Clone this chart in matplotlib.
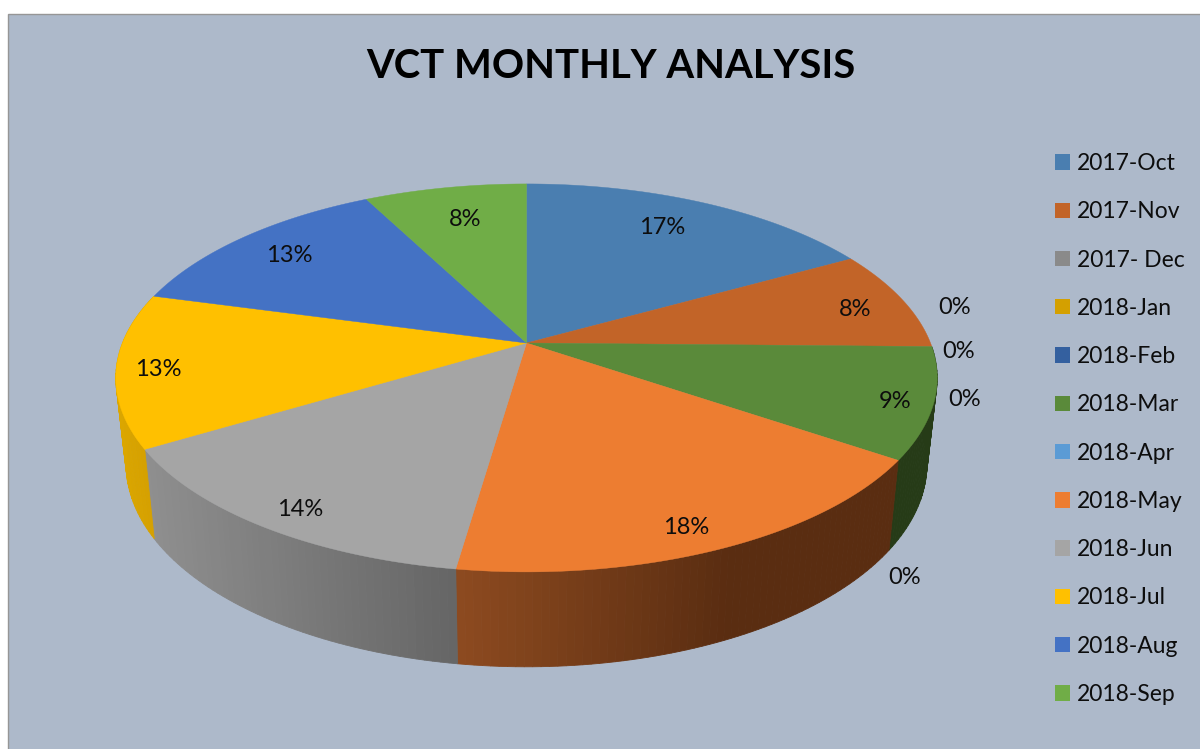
import numpy as np
import matplotlib
matplotlib.use("Agg")
import matplotlib.pyplot as plt
from matplotlib.patches import Patch, Polygon, Rectangle

plt.rcParams['font.family'] = ['Lato', 'DejaVu Sans']

# Data
months = ['2017-Oct', '2017-Nov', '2017- Dec', '2018-Jan', '2018-Feb', '2018-Mar',
          '2018-Apr', '2018-May', '2018-Jun', '2018-Jul', '2018-Aug', '2018-Sep']
shares = [16.9, 8.4, 0, 0, 0, 9.2, 0, 17.8, 14.1, 12.8, 13.2, 7.6]
colors = ['#4a7eb0', '#c26428', '#8a8a8a', '#d4a000', '#34609f', '#5a8a3a',
          '#5b9bd5', '#ed7d31', '#a5a5a5', '#ffc000', '#4472c4', '#70ad47']
title = 'VCT MONTHLY ANALYSIS'

# where the percent labels sit, pixels
label_x = [662, 855, 955, 959, 965, 895, 905, 686, 300, 158, 289, 465]
label_y = [228, 309, 307, 352, 400, 402, 578, 528, 509, 370, 256, 219]

# side shading: colour at left end and right end of the visible wall
side_shade = {'2018-Mar': ('#263b17', '#263b17'), '2018-May': ('#8e4b20', '#5a2d11'),
              '2018-Jun': ('#8f8f8f', '#666666'), '2018-Jul': ('#dba600', '#d49f00')}

# perspective of the pie, pixels
cx, cy = 526.5, 343
rx, ry, k = 404, 187.7, 0.18
drop_bottom = 84.6


def project(theta, xscale=1.0, yscale=1.0, drop=0.0):
    # theta clockwise from 12 o'clock
    u = np.sin(theta)
    w = -np.cos(theta)
    div = 1 - k * w
    return cx + xscale * rx * u / div, cy + drop + yscale * ry * w / div


fig = plt.figure(figsize=(12, 7.49), dpi=100, facecolor='white')
ax = fig.add_axes([0, 0, 1, 1])
ax.set_xlim(0, 1200)
ax.set_ylim(749, 0)
ax.axis('off')

ax.add_patch(Rectangle((8, 14), 1300, 900, facecolor='#adb9ca', edgecolor='#969696', lw=1.0, zorder=0))

edges = np.cumsum([0] + shares) / sum(shares) * 2 * np.pi

# side walls first, the top faces cover whatever is at the back
for i, name in enumerate(months):
    if shares[i] == 0 or name not in side_shade:
        continue
    a, b = edges[i], edges[i + 1]
    steps = max(int(np.degrees(b - a)), 2)
    t = np.linspace(a, b, steps + 1)
    c_left = np.array(matplotlib.colors.to_rgb(side_shade[name][0]))
    c_right = np.array(matplotlib.colors.to_rgb(side_shade[name][1]))
    xt, yt = project(t)
    xb, yb = project(t, xscale=0.975, yscale=1.045, drop=drop_bottom)
    span = xt.max() - xt.min()
    for j in range(steps):
        f = (xt[j] - xt.min()) / span
        # orange reaches its dark brown well before the right end
        if name == '2018-May':
            f = min(f * 1.6, 1)
        col = c_left + (c_right - c_left) * f
        pts = [(xt[j], yt[j]), (xt[j + 1], yt[j + 1]), (xb[j + 1], yb[j + 1]), (xb[j], yb[j])]
        ax.add_patch(Polygon(pts, closed=True, facecolor=col, edgecolor=col, lw=0.6, zorder=2))

# top faces
for i in range(len(months)):
    if shares[i] == 0:
        continue
    t = np.linspace(edges[i], edges[i + 1], 120)
    x, y = project(t)
    pts = [(cx, cy)] + list(zip(x, y))
    ax.add_patch(Polygon(pts, closed=True, facecolor=colors[i], edgecolor=colors[i], lw=0.3, zorder=3))

# percent labels
for i in range(len(months)):
    ax.text(label_x[i], label_y[i], f"{shares[i]:.0f}%", fontsize=17, color='#0d0d0d',
            ha='center', va='center', zorder=4)

ax.text(611, 67, title, fontsize=28.8, fontweight='bold', color='black', ha='center', va='center', zorder=4)

handles = [Patch(facecolor=c, edgecolor='none') for c in colors]
ax.legend(handles, months, loc='upper left', bbox_to_anchor=(1055 / 1200, 1 - 153 / 749),
          frameon=False, fontsize=16.5, labelspacing=1.19, handlelength=0.66, handleheight=0.66,
          handletextpad=0.3, borderpad=0, borderaxespad=0, labelcolor='#0d0d0d')

fig.savefig('out.png', dpi=100)
